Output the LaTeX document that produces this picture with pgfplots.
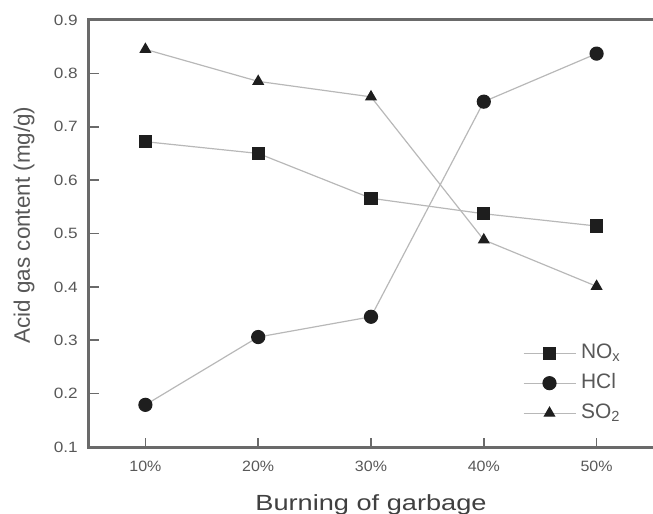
\documentclass[border=0pt]{standalone}
\usepackage{pgfplots}
\pgfplotsset{compat=1.18}
\usepackage{fontspec}
\setmainfont{Liberation Sans}
\definecolor{axgray}{HTML}{6A6A6A}
\definecolor{txtgray}{HTML}{585858}
\definecolor{lngray}{HTML}{B8B8B8}
\definecolor{mk}{HTML}{1E1E1E}
\begin{document}
\begin{tikzpicture}
\begin{axis}[
  scale only axis,
  width=564bp, height=427bp,
  at={(0,0)}, anchor=south west,
  xmin=0.5, xmax=5.5, ymin=0.1, ymax=0.9,
  axis line style={draw=none},
  xtick={1,2,3,4,5},
  xticklabels={10\%,20\%,30\%,40\%,50\%},
  tick pos=left,
  ytick={0.1,0.2,...,0.9},
  tick align=inside,
  major tick length=9bp,
  tick style={draw=axgray, line width=1.6bp},
  /pgf/number format/assume math mode=true,
  yticklabel style={/pgf/number format/fixed, /pgf/number format/fixed zerofill, /pgf/number format/precision=1},
  xticklabel style={font=\fontsize{15}{15}\selectfont, text=txtgray, inner sep=0pt, xscale=1.07},
  yticklabel style={font=\fontsize{15}{15}\selectfont, text=txtgray, inner sep=0pt, xscale=1.15},
  xticklabel shift=14bp,
  yticklabel shift=11bp,
  xlabel={Burning of garbage},
  ylabel={Acid gas content (mg/g)},
  xlabel style={font=\fontsize{22}{22}\selectfont, text=black!75, xscale=1.24, at={(axis description cs:0.5,-0.136)}, anchor=center},
  ylabel style={font=\fontsize{22.5}{22.5}\selectfont, text=txtgray, at={(axis description cs:-0.115,0.52)}, anchor=center},
  clip=false,
  legend style={draw=none, fill=none, at={(rel axis cs:0.769,0.2436)}, anchor=north west,
    font=\fontsize{21}{21}\selectfont, text=txtgray, row sep=10bp, column sep=5bp, inner sep=0pt,
    nodes={inner sep=0pt, text height=15bp, text depth=5bp}},
  legend cell align=left,
  legend image code/.code={\draw[mark repeat=2,mark phase=2] plot coordinates {(0bp,0bp)(26bp,0bp)(52bp,0bp)};},
]
\addplot[lngray, line width=1.2bp, mark=square*, mark size=6bp, mark options={draw=mk, fill=mk}]
  coordinates {(1,0.672)(2,0.650)(3,0.566)(4,0.537)(5,0.514)};
\addlegendentry{NO\textsubscript{x}}
\addplot[lngray, line width=1.2bp, mark=*, mark size=6.5bp, mark options={draw=mk, fill=mk}]
  coordinates {(1,0.179)(2,0.306)(3,0.344)(4,0.747)(5,0.837)};
\addlegendentry{HCl}
\addplot[lngray, line width=1.2bp, mark=triangle*, mark size=5.8bp, mark options={draw=mk, fill=mk}]
  coordinates {(1,0.845)(2,0.785)(3,0.756)(4,0.488)(5,0.401)};
\addlegendentry{SO\textsubscript{2}}
\pgfplotsinvokeforeach{1,2,3,4,5}{\draw[axgray, line width=1.6bp] (axis cs:#1,0.1) -- (axis cs:#1,0.117);}
\pgfplotsinvokeforeach{0.2,0.3,0.4,0.5,0.6,0.7,0.8}{\draw[axgray, line width=1.6bp] (axis cs:0.5,#1) -- (axis cs:0.589,#1);}
\draw[axgray, line width=3bp] (rel axis cs:1,1) -- (rel axis cs:0,1) -- (rel axis cs:0,0) -- (rel axis cs:1,0);
\end{axis}
\pgfresetboundingbox
\path (-89bp,-67bp) rectangle (564bp,447bp);
\end{tikzpicture}
\end{document}
